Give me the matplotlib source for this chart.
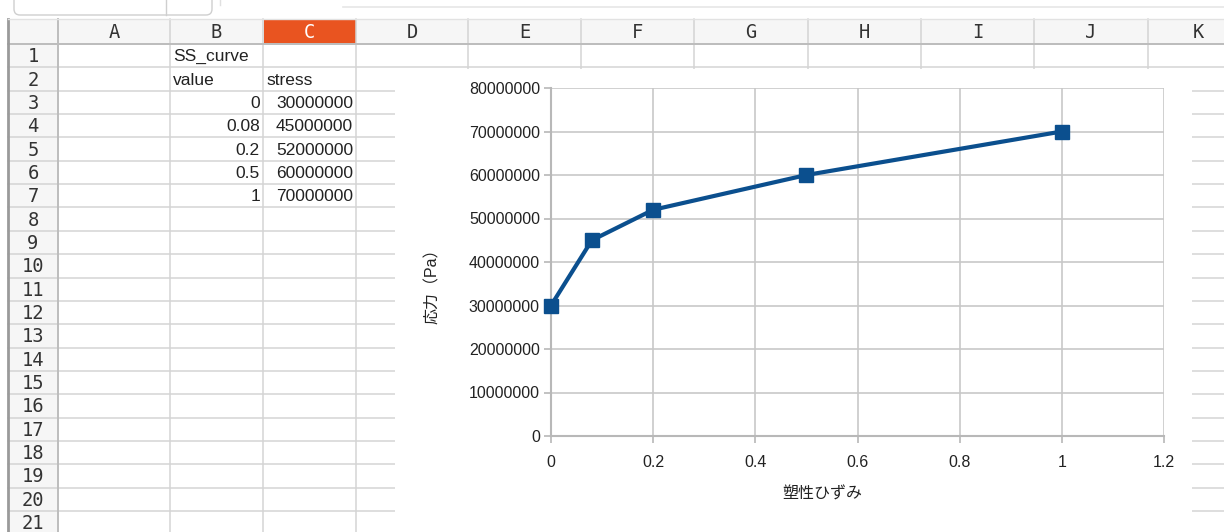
import matplotlib.pyplot as plt
import matplotlib.patches as mpatches
from matplotlib.ticker import FuncFormatter, MultipleLocator

plt.rcParams['font.family'] = ['Liberation Sans', 'Noto Sans CJK JP', 'DejaVu Sans']

# data
strain = [0, 0.08, 0.2, 0.5, 1]
stress = [30000000, 45000000, 52000000, 60000000, 70000000]
col_names = ["A", "B", "C", "D", "E", "F", "G", "H", "I", "J", "K"]
row_count = 21
sheet_title = "SS_curve"
col_headers = ["value", "stress"]
x_label = "塑性ひずみ"
y_label = "応力（Pa）"

# layout (pixels)
W, H = 1224, 532
col_edges = [58, 170, 263, 356, 468, 581, 694, 808, 921, 1034, 1148, 1262]
head_top, head_bot = 19, 44
row_h = 23.35
chart_box = (395, 68, 1192, 532)
grid_c = "#d4d4d4"
head_font = "DejaVu Sans Mono"

fig = plt.figure(figsize=(W / 100, H / 100), dpi=100)
bg = fig.add_axes([0, 0, 1, 1])
bg.set_xlim(0, W)
bg.set_ylim(H, 0)
bg.axis("off")

# toolbar strip
bg.add_patch(mpatches.FancyBboxPatch((14, -10), 198, 25, boxstyle="round,pad=0,rounding_size=6",
                                     fc="white", ec="#cfcfcf", lw=1))
bg.plot([166, 166], [0, 15], color="#cfcfcf", lw=1)
bg.plot([220, 220], [0, 5], color="#e0e0e0", lw=1)
bg.plot([343, W], [6.5, 6.5], color="#e6e6e6", lw=1.2)

# header row / column backgrounds
bg.add_patch(mpatches.Rectangle((8, head_top), W, head_bot - head_top, fc="#f6f6f6", ec="none"))
bg.add_patch(mpatches.Rectangle((8, head_bot), 50, H, fc="#f6f6f6", ec="none"))
bg.add_patch(mpatches.Rectangle((col_edges[2] + 1, head_top), col_edges[3] - col_edges[2] - 1,
                                head_bot - head_top, fc="#e95420", ec="none"))

# grid lines
for i in range(row_count + 1):
    y = head_bot + i * row_h
    bg.plot([8, W], [y, y], color=grid_c, lw=1.1)
for x in col_edges[1:]:
    bg.plot([x, x], [head_top, H], color=grid_c, lw=1.1)
bg.plot([8, W], [head_bot, head_bot], color="#bdbdbd", lw=1.4)
bg.plot([58, 58], [head_top, H], color="#bdbdbd", lw=1.4)
bg.plot([8, 8], [head_top, H], color="#9a9a9a", lw=2)
bg.plot([8, W], [head_top, head_top], color="#e2e2e2", lw=1)

# column letters
for i, name in enumerate(col_names):
    cx = (col_edges[i] + col_edges[i + 1]) / 2
    if name == "K":
        cx = 1198
    bg.text(cx, (head_top + head_bot) / 2 + 1, name, ha="center", va="center", fontsize=13.5,
            family=head_font, color="white" if name == "C" else "#333333")

# row numbers
for r in range(1, row_count + 1):
    cy = head_bot + (r - 0.5) * row_h
    bg.text(33, cy + 1, str(r), ha="center", va="center", fontsize=13.5,
            family=head_font, color="#333333")

# cell contents
def row_y(r):
    return head_bot + (r - 0.5) * row_h + 1

bg.text(col_edges[1] + 3, row_y(1), sheet_title, ha="left", va="center", fontsize=12.5, color="#222222")
bg.text(col_edges[1] + 3, row_y(2), col_headers[0], ha="left", va="center", fontsize=12.5, color="#222222")
bg.text(col_edges[2] + 3, row_y(2), col_headers[1], ha="left", va="center", fontsize=12.5, color="#222222")
for k, (v, s) in enumerate(zip(strain, stress)):
    bg.text(col_edges[2] - 3, row_y(3 + k), f"{v:g}", ha="right", va="center", fontsize=12.5, color="#222222")
    bg.text(col_edges[3] - 3, row_y(3 + k), f"{s:.0f}", ha="right", va="center", fontsize=12.5, color="#222222")

# chart white background
x0, y0, x1, y1 = chart_box
bg.add_patch(mpatches.Rectangle((x0, y0 + 0.8), x1 - x0, y1 - y0, fc="white", ec="none", zorder=3))

# chart
ax = fig.add_axes([551 / W, 1 - 436 / H, (1164 - 551) / W, (436 - 88) / H])
ax.plot(strain, stress, color="#0b4f8e", lw=3, marker="s", markersize=10, clip_on=False, zorder=5)
ax.set_xlim(0, 1.2)
ax.set_ylim(0, 80000000)
ax.xaxis.set_major_locator(MultipleLocator(0.2))
ax.yaxis.set_major_locator(MultipleLocator(10000000))
ax.xaxis.set_major_formatter(FuncFormatter(lambda v, p: f"{v:g}"))
ax.yaxis.set_major_formatter(FuncFormatter(lambda v, p: f"{v:.0f}"))
ax.grid(True, color="#c8c8c8", lw=1.2)
ax.set_axisbelow(True)
for side in ["top", "right"]:
    ax.spines[side].set_visible(False)
for side in ["left", "bottom"]:
    ax.spines[side].set_color("#b8b8b8")
    ax.spines[side].set_linewidth(1.5)
ax.tick_params(axis="both", colors="#b8b8b8", labelcolor="#222222", labelsize=11.5, length=5, width=1.2)
ax.tick_params(axis="x", pad=9)
ax.tick_params(axis="y", pad=3)
ax.set_xlabel(x_label, fontsize=11.5, color="#222222")
ax.set_ylabel(y_label, fontsize=11.5, color="#222222")
ax.xaxis.set_label_coords((822 - 551) / 613, -(494 - 436) / 348, transform=ax.transAxes)
ax.yaxis.set_label_coords(-(551 - 432) / 613, (436 - 282) / 348, transform=ax.transAxes)
ax.xaxis.label.set_va("center")
ax.yaxis.label.set_va("center")

fig.savefig("out.png", dpi=100)
